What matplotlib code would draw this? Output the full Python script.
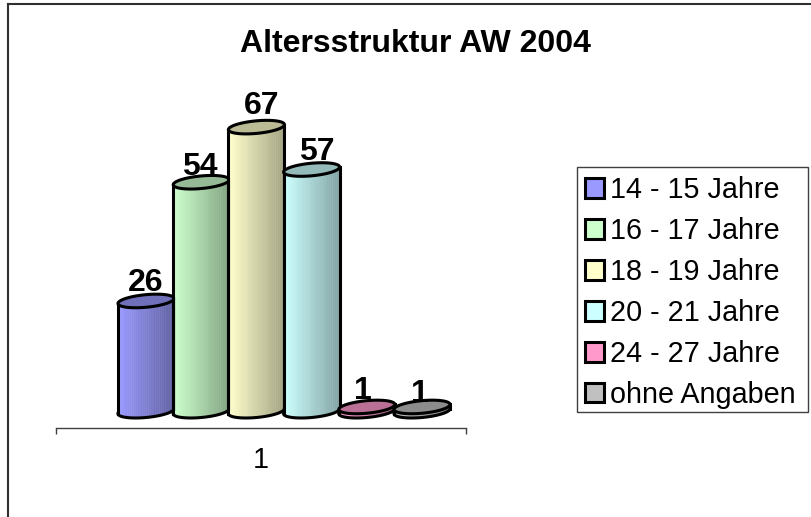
import numpy as np
import matplotlib
matplotlib.use('Agg')
import matplotlib.pyplot as plt
from matplotlib.lines import Line2D
from matplotlib.patches import Patch, Rectangle

plt.rcParams['font.family'] = ['Liberation Sans', 'DejaVu Sans']

title = 'Altersstruktur AW 2004'
groups = ['14 - 15 Jahre', '16 - 17 Jahre', '18 - 19 Jahre', '20 - 21 Jahre', '24 - 27 Jahre', 'ohne Angaben']
values = [26, 54, 67, 57, 1, 1]
colors = ['#9999FF', '#CCFFCC', '#FFFFCC', '#CCFFFF', '#FF99CC', '#C0C0C0']
axis_label = '1'

W, H = 811, 517
fig = plt.figure(figsize=(W / 100, H / 100), dpi=100)
ax = fig.add_axes([56 / W, 1 - 427.7 / H, 410 / W, 367.7 / H])

# scale: px per bar, px per unit
px_x, px_y = 55.2, 4.24
ax.set_xlim((56 - 146) / px_x, (466 - 146) / px_x)
ax.set_ylim(-16.5 / px_y, (411.2 - 60) / px_y)

a, b, tilt = 28 / px_x, 6.3 / px_y, 0.09 * px_x / px_y


def ellipse_y(x, sign):
    return tilt * x + sign * b * np.sqrt(np.clip(1 - (x / a) ** 2, 0, 1))


def draw_cylinder(x0, v, color, z):
    rgb = np.array(matplotlib.colors.to_rgb(color))
    edges = np.linspace(-a, a, 31)
    for i in range(30):
        xs = np.linspace(edges[i], edges[i + 1], 4)
        shade = 1 - 0.36 * (i / 29)
        ax.fill_between(x0 + xs, ellipse_y(xs, -1), v + tilt * xs,
                        color=rgb * shade, lw=0.3, zorder=z)
    xs = a * np.cos(np.linspace(0, np.pi, 60))
    # outline of body
    ax.plot(x0 + xs, ellipse_y(xs, -1), color='k', lw=2.2, zorder=z + 0.2)
    ax.plot([x0 - a, x0 - a], [-tilt * a, v - tilt * a], color='k', lw=2.2, zorder=z + 0.2)
    ax.plot([x0 + a, x0 + a], [tilt * a, v + tilt * a], color='k', lw=2.2, zorder=z + 0.2)
    # top
    t = np.linspace(0, 2 * np.pi, 120)
    tx = a * np.cos(t)
    ty = v + tilt * tx + b * np.sin(t)
    ax.fill(x0 + tx, ty, facecolor=rgb * 0.73, edgecolor='k', lw=2.2, zorder=z + 0.3)


label_dx = [-0.01, -0.03, 0.09, 0.09, -0.08, -0.04]
label_dy = [4.2, 3.5, 4.9, 4.15, 3.7, 3.0]
x_pos = np.arange(len(values))
for i, v in enumerate(values):
    draw_cylinder(x_pos[i], v, colors[i], i + 2)
    ax.text(x_pos[i] + label_dx[i], v + label_dy[i], str(v), ha='center', va='center',
            fontsize=23, fontweight='bold', color='k', zorder=20)

for s in ['top', 'left', 'right']:
    ax.spines[s].set_visible(False)
ax.spines['bottom'].set_color('#404040')
ax.spines['bottom'].set_linewidth(1.0)
ax.set_yticks([])
ax.set_xticks(ax.get_xlim())
ax.set_xticklabels([])
ax.tick_params(axis='x', which='major', length=4.5, width=1.0, color='#404040')
ax.set_xticks([(261 - 146) / px_x], [axis_label], minor=True)
ax.tick_params(axis='x', which='minor', length=0, pad=13.2, labelsize=20.7)
ax.patch.set_visible(False)

fig.text(415 / W, 1 - 44.5 / H, title, ha='center', va='center', fontsize=23, fontweight='bold')

# chart frame, cut off by the image on right and bottom
fig.add_artist(Line2D([7.5 / W, 7.5 / W], [0, 1 - 4 / H], color='#303030', lw=1.5))
fig.add_artist(Line2D([7.5 / W, 1], [1 - 4 / H, 1 - 4 / H], color='#303030', lw=1.5))

fig.add_artist(Rectangle((577 / W, 1 - 412 / H), 231 / W, 245 / H, transform=fig.transFigure,
                         facecolor='white', edgecolor='#404040', lw=1.0))
handles = [Patch(facecolor=c, edgecolor='k', lw=2.2) for c in colors]
leg = fig.legend(handles, groups, loc='upper left', bbox_to_anchor=(576 / W, 1 - 167 / H),
                 bbox_transform=fig.transFigure, fontsize=20.7, frameon=False,
                 borderaxespad=0, borderpad=0.32,
                 handlelength=0.66, handleheight=0.66, handletextpad=0.22, labelspacing=0.45)

fig.savefig('out.png', dpi=100)
